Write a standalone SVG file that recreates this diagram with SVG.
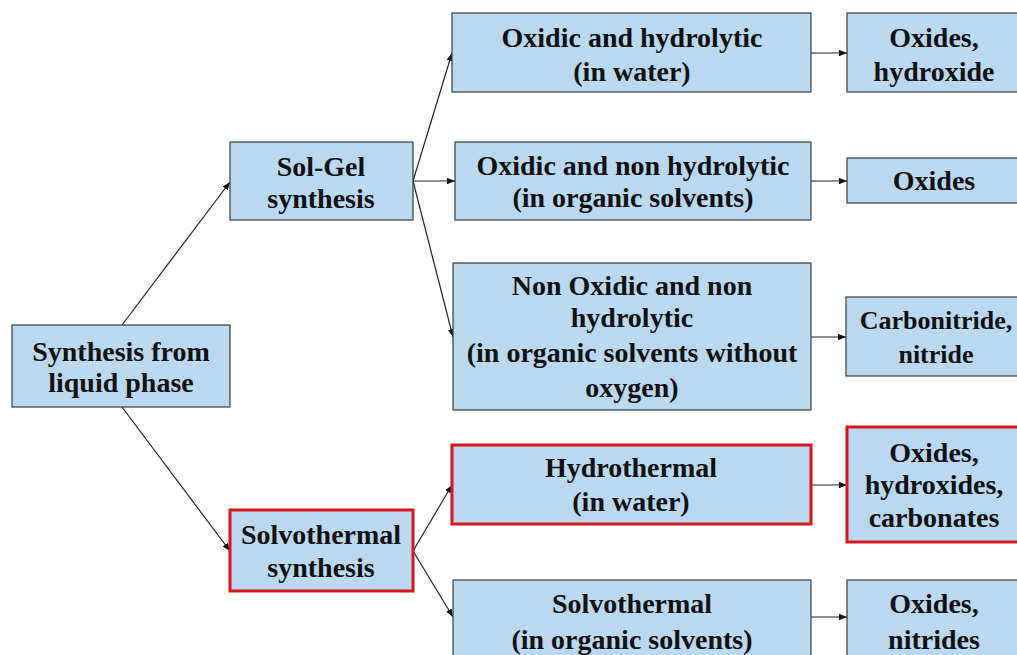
<svg xmlns="http://www.w3.org/2000/svg" width="1017" height="655" viewBox="0 0 1017 655">
<defs>
<style>
.box{fill:#BAD8F0;stroke:#3a3a3a;stroke-width:1.2}
.red{fill:#BAD8F0;stroke:#D7161E;stroke-width:3}
text{font-family:"Liberation Serif","Times New Roman",serif;font-weight:bold;font-size:28px;fill:#111;text-anchor:middle}
.sm{font-size:26px}
.con{stroke:#222;stroke-width:1.2;fill:none;marker-end:url(#ah)}
</style>
<marker id="ah" viewBox="0 0 10 10" refX="10" refY="5" markerWidth="8" markerHeight="8" markerUnits="userSpaceOnUse" orient="auto">
<path d="M0,1 L10,5 L0,9 z" fill="#111"/>
</marker>
</defs>
<rect width="1017" height="655" fill="#fff"/>
<g id="connectors">
<line class="con" x1="122" y1="325" x2="230" y2="182"/>
<line class="con" x1="122" y1="407" x2="230" y2="551"/>
<line class="con" x1="413" y1="181" x2="452" y2="53"/>
<line class="con" x1="413" y1="181" x2="455" y2="181"/>
<line class="con" x1="413" y1="181" x2="453" y2="337"/>
<line class="con" x1="413" y1="551" x2="452" y2="485"/>
<line class="con" x1="413" y1="551" x2="453" y2="617"/>
<line class="con" x1="811" y1="53" x2="847" y2="53"/>
<line class="con" x1="811" y1="181" x2="847" y2="181"/>
<line class="con" x1="811" y1="337" x2="846" y2="337"/>
<line class="con" x1="811" y1="485" x2="847" y2="485"/>
<line class="con" x1="811" y1="617" x2="847" y2="617"/>
</g>
<g id="root">
<rect class="box" x="12" y="325" width="218" height="82"/>
<text x="121" y="361">Synthesis from</text>
<text x="121" y="392">liquid phase</text>
</g>
<g id="solgel">
<rect class="box" x="230" y="142" width="183" height="78"/>
<text x="321" y="176">Sol-Gel</text>
<text x="321" y="208">synthesis</text>
</g>
<g id="solvothermal-synthesis">
<rect class="red" x="230" y="510" width="183" height="81"/>
<text x="321" y="544">Solvothermal</text>
<text x="321" y="577">synthesis</text>
</g>
<g id="oxidic-hydrolytic">
<rect class="box" x="452" y="13" width="359" height="79"/>
<text x="632" y="47">Oxidic and hydrolytic</text>
<text x="632" y="81">(in water)</text>
</g>
<g id="oxidic-nonhydrolytic">
<rect class="box" x="455" y="142" width="356" height="78"/>
<text x="633" y="175">Oxidic and non hydrolytic</text>
<text x="633" y="207">(in organic solvents)</text>
</g>
<g id="nonoxidic">
<rect class="box" x="453" y="263" width="358" height="147"/>
<text x="632" y="295">Non Oxidic and non</text>
<text x="632" y="327">hydrolytic</text>
<text x="632" y="362">(in organic solvents without</text>
<text x="632" y="397">oxygen)</text>
</g>
<g id="hydrothermal">
<rect class="red" x="452" y="445" width="359" height="79"/>
<text x="631" y="477">Hydrothermal</text>
<text x="631" y="511">(in water)</text>
</g>
<g id="solvothermal-organic">
<rect class="box" x="453" y="580" width="358" height="90"/>
<text x="632" y="613">Solvothermal</text>
<text x="632" y="649">(in organic solvents)</text>
</g>
<g id="oxides-hydroxide">
<rect class="box" x="847" y="13" width="175" height="79"/>
<text x="934" y="47">Oxides,</text>
<text x="934" y="81">hydroxide</text>
</g>
<g id="oxides">
<rect class="box" x="847" y="158" width="175" height="45"/>
<text x="934" y="190">Oxides</text>
</g>
<g id="carbonitride">
<rect class="box" x="846" y="297" width="176" height="79"/>
<text class="sm" x="936" y="329">Carbonitride,</text>
<text class="sm" x="936" y="363">nitride</text>
</g>
<g id="oxides-hydroxides-carbonates">
<rect class="red" x="847" y="427" width="175" height="115"/>
<text x="934" y="462">Oxides,</text>
<text x="934" y="494">hydroxides,</text>
<text x="934" y="527">carbonates</text>
</g>
<g id="oxides-nitrides">
<rect class="box" x="847" y="580" width="175" height="90"/>
<text x="934" y="613">Oxides,</text>
<text x="934" y="649">nitrides</text>
</g>
</svg>
